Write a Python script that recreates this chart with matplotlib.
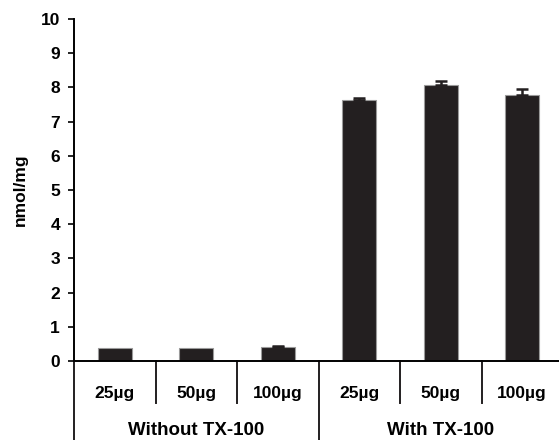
import matplotlib
matplotlib.use('Agg')
import matplotlib.pyplot as plt

plt.rcParams['font.family'] = ['Liberation Sans', 'DejaVu Sans']
plt.rcParams['font.weight'] = 'bold'

# values
doses = ['25µg', '50µg', '100µg', '25µg', '50µg', '100µg']
groups = ['Without TX-100', 'With TX-100']
means = [0.38, 0.38, 0.40, 7.64, 8.08, 7.78]
errors = [0.0, 0.0, 0.04, 0.04, 0.10, 0.17]

W, H = 559, 440
fig = plt.figure(figsize=(W / 100, H / 100), dpi=100)
# the plot is cropped on the right in the original, so the axes run past the edge
ax = fig.add_axes([74 / W, (H - 361) / H, (563 - 74) / W, (361 - 19) / H])

x = list(range(len(means)))
ax.bar(x, means, width=0.42, color='#231f20', edgecolor='#9a9a9a', linewidth=0.8)
# only upward error bars, and none where the error is nil
ex = [i for i in x if errors[i] > 0]
ax.errorbar(ex, [means[i] for i in ex], yerr=[[0] * len(ex), [errors[i] for i in ex]],
            fmt='none', ecolor='#231f20', elinewidth=1.8, capsize=4.5, capthick=1.8)

ax.set_xlim(-0.5, len(means) - 0.5)
ax.set_ylim(0, 10)
ax.set_yticks(range(0, 11))
ax.tick_params(axis='y', direction='out', length=4, width=1.2, pad=6, labelsize=12.5)
ax.set_xticks([])
for lab in ax.get_yticklabels():
    lab.set_fontweight('bold')

for s in ['top', 'right']:
    ax.spines[s].set_visible(False)
ax.spines['left'].set_linewidth(1.4)
ax.spines['bottom'].set_linewidth(1.4)

ax.set_ylabel('nmol/mg', fontsize=12.5, fontweight='bold', va='center')
ax.yaxis.set_label_coords((20 - 74) / 489, 0.5)

# category table below the axis
trans = ax.get_xaxis_transform()
px = 1 / (361 - 19)  # one pixel in axes-height units
for i, d in enumerate(doses):
    ax.text(i, -32 * px, d, transform=trans, ha='center', va='center',
            fontsize=12.5, fontweight='bold')
for i, g in enumerate(groups):
    ax.text(i * 3 + 1, -69 * px, g, transform=trans, ha='center', va='center',
            fontsize=13.5, fontweight='bold')

for xs in [0.5, 1.5, 3.5, 4.5]:
    ax.plot([xs, xs], [0, -42 * px], transform=trans, color='#231f20', lw=1.4, clip_on=False)
for xs in [-0.5, 2.5]:
    ax.plot([xs, xs], [0, -85 * px], transform=trans, color='#231f20', lw=1.4, clip_on=False)

fig.savefig('out.png', dpi=100)
